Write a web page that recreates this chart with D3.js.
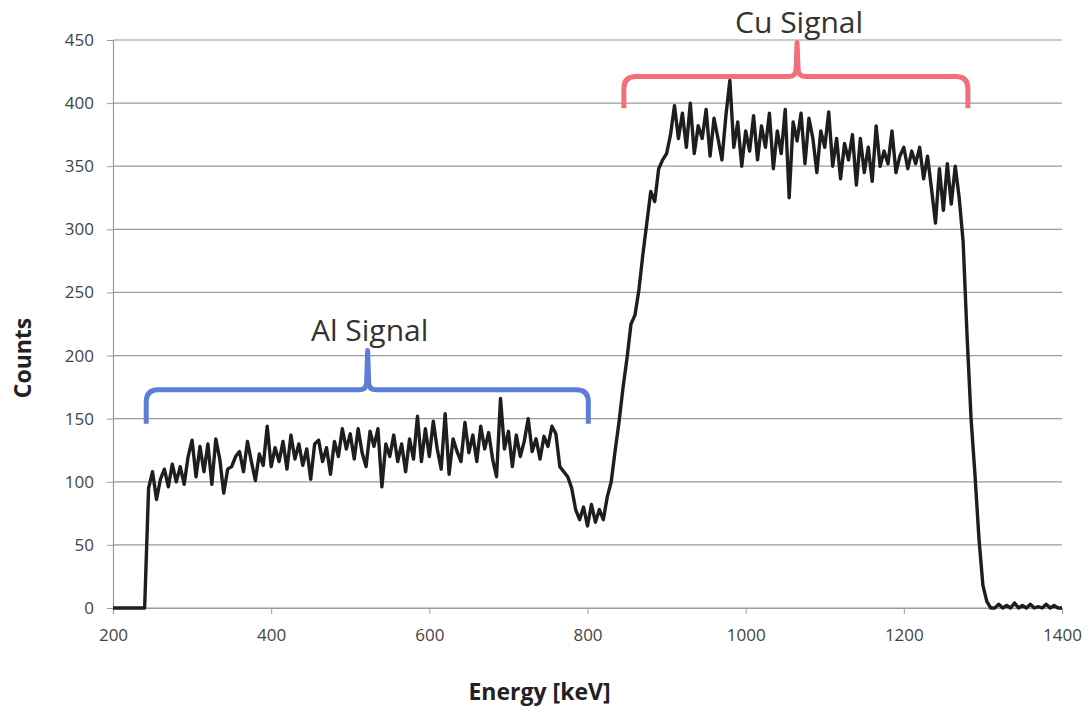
<!DOCTYPE html>
<html>
<head>
<meta charset="utf-8">
<script src="https://cdn.jsdelivr.net/npm/d3@7"></script>
<style>
  body { margin: 0; background: #fff; }
  svg text { font-family: "Open Sans", "DejaVu Sans", sans-serif; }
</style>
</head>
<body>
<div id="chart"></div>
<script>
// energy axis, keV (5 keV bins)
var eStart = 200, eStep = 5;
// counts per bin
var counts = [
  0, 0, 0, 0, 0, 0, 0, 0, 0,                                   // 200-240
  95, 108, 86, 102, 110, 96, 114, 100, 112, 98, 120,            // 245-295
  133, 104, 128, 108, 130, 98, 134, 118, 91, 110,               // 300-345
  112, 120, 124, 108, 132, 116, 101, 122, 113, 144,             // 350-395
  112, 127, 116, 132, 110, 137, 118, 130, 113, 126,             // 400-445
  102, 130, 133, 116, 127, 106, 132, 120, 142, 126,             // 450-495
  138, 118, 142, 123, 112, 140, 128, 142, 96, 130,              // 500-545
  120, 137, 116, 130, 108, 134, 118, 152, 116, 142,             // 550-595
  120, 148, 126, 110, 154, 106, 134, 124, 116, 147,             // 600-645
  123, 137, 116, 144, 126, 139, 118, 104, 166, 126,             // 650-695
  140, 112, 137, 120, 132, 150, 124, 134, 118, 136,             // 700-745
  128, 144, 138, 112, 108, 104, 95, 78, 70, 80,                 // 750-795
  65, 82, 68, 78, 70, 88, 100, 125, 148, 175,                   // 800-845
  198, 225, 232, 252, 280, 305, 330, 322, 348, 355,             // 850-895
  360, 375, 398, 372, 392, 365, 400, 360, 382, 372,             // 900-945
  395, 358, 388, 372, 355, 390, 418, 365, 385, 350,             // 950-995
  378, 362, 390, 355, 382, 365, 392, 348, 378, 360,             // 1000-1045
  395, 325, 385, 370, 392, 352, 388, 372, 345, 378,             // 1050-1095
  365, 393, 350, 372, 340, 368, 355, 375, 335, 372,             // 1100-1145
  345, 365, 338, 382, 350, 362, 352, 378, 345, 358,             // 1150-1195
  365, 348, 362, 352, 365, 340, 358, 332, 305, 348,             // 1200-1245
  315, 352, 320, 350, 325, 290, 215, 150, 105, 55,              // 1250-1295
  18, 5, 0, 0, 3, 0, 2, 0, 4, 0,                                // 1300-1345
  2, 0, 3, 0, 1, 0, 3, 0, 2, 0, 0                               // 1350-1400
];
var xTicks = [200, 400, 600, 800, 1000, 1200, 1400];
var yTicks = [0, 50, 100, 150, 200, 250, 300, 350, 400, 450];

// brackets: span in keV, tip position, and levels in counts
var brackets = [
  { label: "Al Signal", x0: 242, x1: 801, xm: 522, yEnd: 146, yBar: 173, yTip: 204, color: "#5b7fd8" },
  { label: "Cu Signal", x0: 846, x1: 1281, xm: 1065, yEnd: 396, yBar: 421, yTip: 448, color: "#f26f7a" }
];

var data = counts.map(function(c, i) { return { e: eStart + i * eStep, c: c }; });

var W = 1091, H = 717;
var margin = { top: 40, right: 29, bottom: 109, left: 113 };
var width = W - margin.left - margin.right,
    height = H - margin.top - margin.bottom;

var svg = d3.select("#chart").append("svg").attr("width", W).attr("height", H)
  .append("g").attr("transform", "translate(" + margin.left + "," + margin.top + ")");

var x = d3.scaleLinear().domain([200, 1400]).range([0, width]);
var y = d3.scaleLinear().domain([0, 450]).range([height, 0]);

// horizontal gridlines
svg.append("g").selectAll("line").data(yTicks).enter().append("line")
  .attr("x1", 0).attr("x2", width)
  .attr("y1", function(d) { return y(d); }).attr("y2", function(d) { return y(d); })
  .attr("stroke", "#9a9a9a").attr("stroke-width", 1.2);

// y axis
var yAxis = d3.axisLeft(y).tickValues(yTicks).tickSize(6).tickPadding(13);
var gy = svg.append("g").call(yAxis);
gy.select(".domain").attr("stroke", "#9a9a9a").attr("stroke-width", 1.2);
gy.selectAll(".tick line").attr("stroke", "#9a9a9a");
gy.selectAll("text").attr("fill", "#444").style("font-size", "17px");

// x axis
var xAxis = d3.axisBottom(x).tickValues(xTicks).tickFormat(d3.format("d")).tickSize(6).tickPadding(15);
var gx = svg.append("g").attr("transform", "translate(0," + height + ")").call(xAxis);
gx.select(".domain").attr("stroke", "#9a9a9a").attr("stroke-width", 1.2);
gx.selectAll(".tick line").attr("stroke", "#9a9a9a");
gx.selectAll("text").attr("fill", "#444").style("font-size", "17px");

// spectrum line
var line = d3.line().x(function(d) { return x(d.e); }).y(function(d) { return y(d.c); });
svg.append("path").datum(data).attr("d", line)
  .attr("fill", "none").attr("stroke", "#1e1e1e").attr("stroke-width", 3.4)
  .attr("stroke-linejoin", "round");

// curly brackets
brackets.forEach(function(b) {
  var r = 12;
  var X0 = x(b.x0), X1 = x(b.x1), XM = x(b.xm),
      YE = y(b.yEnd), YB = y(b.yBar), YT = y(b.yTip);
  var p = d3.path();
  p.moveTo(X0, YE);
  p.lineTo(X0, YB + r);
  p.quadraticCurveTo(X0, YB, X0 + r, YB);
  p.lineTo(XM - 8, YB);
  p.quadraticCurveTo(XM - 1, YB, XM - 1, YB - 8);
  p.lineTo(XM, YT);
  p.lineTo(XM + 1, YB - 8);
  p.quadraticCurveTo(XM + 1, YB, XM + 8, YB);
  p.lineTo(X1 - r, YB);
  p.quadraticCurveTo(X1, YB, X1, YB + r);
  p.lineTo(X1, YE);
  svg.append("path").attr("d", p.toString())
    .attr("fill", "none").attr("stroke", b.color).attr("stroke-width", 5)
    .attr("stroke-linecap", "butt").attr("stroke-linejoin", "round");
  svg.append("text").attr("x", XM + 2).attr("y", YT - 10)
    .attr("text-anchor", "middle").attr("fill", "#333")
    .style("font-size", "30px").text(b.label);
});

// axis titles
svg.append("text").attr("x", width / 2 - 48).attr("y", height + 92)
  .attr("text-anchor", "middle").attr("fill", "#222")
  .style("font-size", "23px").style("font-weight", "bold").text("Energy [keV]");
svg.append("text").attr("transform", "translate(" + (-82) + "," + (height / 2 + 34) + ") rotate(-90)")
  .attr("text-anchor", "middle").attr("fill", "#222")
  .style("font-size", "23px").style("font-weight", "bold").text("Counts");
</script>
</body>
</html>
